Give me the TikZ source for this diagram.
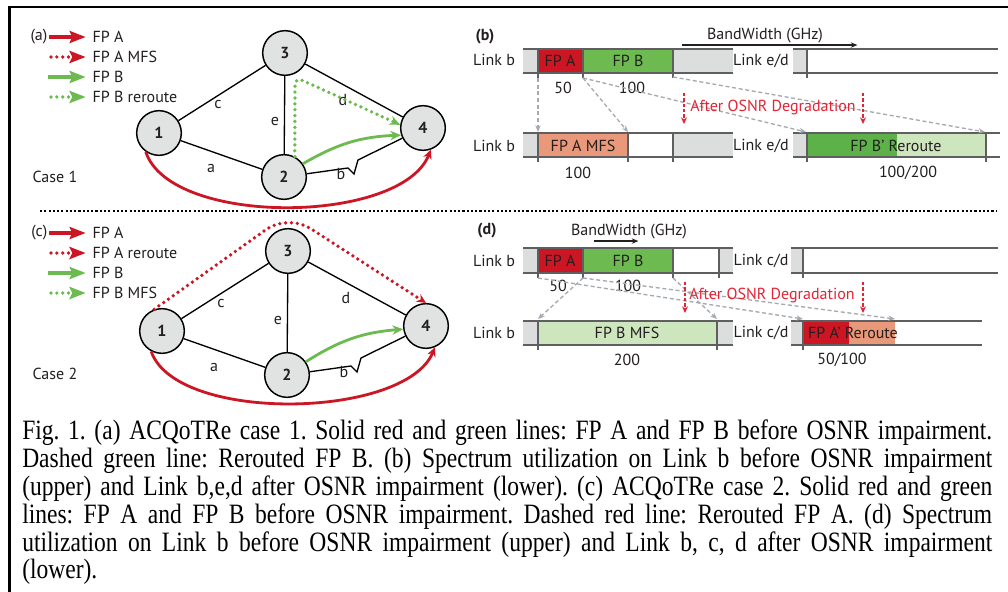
\documentclass[tikz,border=0pt]{standalone}
\usepackage{fontspec}
\setmainfont[FakeStretch=0.84]{Liberation Serif}
\newfontfamily\figsans{PT Sans}
\usetikzlibrary{arrows.meta}

\definecolor{ink}{RGB}{35,31,32}
\definecolor{fpred}{RGB}{204,22,36}
\definecolor{fpgreen}{RGB}{108,186,80}
\definecolor{fpdeep}{RGB}{92,178,72}
\definecolor{mfsred}{RGB}{233,152,122}
\definecolor{mfsgreen}{RGB}{206,230,190}
\definecolor{slot}{RGB}{220,222,221}
\definecolor{nodegray}{RGB}{225,227,226}
\definecolor{rail}{RGB}{95,95,98}
\definecolor{hintgray}{RGB}{165,170,176}
\definecolor{degred}{RGB}{228,36,52}

\newcommand\figtext{\figsans\fontsize{12}{14}\selectfont}
\newcommand\captext{\rmfamily\fontsize{21}{25}\selectfont\frenchspacing}

\tikzset{
  station/.style={circle, draw=black, line width=1.1pt, fill=nodegray,
    minimum size=33.5pt, inner sep=0pt, font=\figtext\bfseries},
  fiber/.style={draw=black, line width=1pt},
  fpA/.style={draw=fpred, line width=2.1pt, -{Stealth[length=7pt,width=6.5pt]}},
  fpB/.style={draw=fpgreen, line width=2.1pt, -{Stealth[length=8pt,width=7pt]}},
  dotline/.style={line width=2.8pt, dash pattern=on 0pt off 4.4pt, line cap=round},
  legA/.style={draw=fpred, line width=2.4pt, -{Stealth[length=12pt,width=9pt,inset=2pt]}},
  legB/.style={draw=fpgreen, line width=2.4pt, -{Stealth[length=12pt,width=9pt,inset=2pt]}},
  railline/.style={draw=rail, line width=0.8pt},
  hint/.style={draw=hintgray, line width=1pt, dash pattern=on 3pt off 2pt,
    -{Stealth[length=5pt,width=4pt]}},
  degrade/.style={draw=degred, line width=1pt, dash pattern=on 2.5pt off 1.5pt,
    -{Stealth[length=5pt,width=4.5pt]}},
  bwarrow/.style={draw=ink, line width=0.9pt, -{Stealth[length=5pt,width=4pt]}},
  tagfont/.style={font=\figtext\bfseries},
  capline/.style={anchor=base west, inner sep=0pt, font=\captext, text=black},
}

\begin{document}
\begin{tikzpicture}[x=0.75pt,y=-0.75pt,
  every node/.style={text=ink, font=\figtext, inner sep=1pt}]
\useasboundingbox (0,0) rectangle (1008,592);
\fill[white] (0,0) rectangle (1008,592);

% frame
\draw[line width=1.7pt] (9.5,592) -- (9.5,7) -- (1008,7);

% legends
\foreach \cs/\dy/\mfsA/\mfsB in {a/0/FP A MFS/FP B reroute, c/196/FP A reroute/FP B MFS}{
  \begin{scope}[shift={(0,\dy)}]
    \node[anchor=east] (\cs-tag) at (49,37) {(\cs)};
    \node[anchor=west] (\cs-l1) at (91,37) {FP A};
    \node[anchor=west] (\cs-l2) at (91,57) {\mfsA};
    \node[anchor=west] (\cs-l3) at (91,77) {FP B};
    \node[anchor=west] (\cs-l4) at (91,97) {\mfsB};
    \draw[legA] (\cs-tag.east) -- ([xshift=-4pt]\cs-l1.west);
    \draw[legA, dotline] ([xshift=-30pt]\cs-l2.west) -- ([xshift=-4pt]\cs-l2.west);
    \draw[legB] ([xshift=-32pt]\cs-l3.west) -- ([xshift=-4pt]\cs-l3.west);
    \draw[legB, dotline] ([xshift=-30pt]\cs-l4.west) -- ([xshift=-4pt]\cs-l4.west);
  \end{scope}
}
\node[anchor=west] (case1) at (31,177) {Case 1};
\node[anchor=west] (case2) at (31,374) {Case 2};

% networks
\foreach \cs/\dx/\dy in {a/0/0, c/3/198}{
  \begin{scope}[shift={(\dx,\dy)}]
    \node[station] (\cs1) at (159,133) {1};
    \node[station] (\cs2) at (284,177) {2};
    \node[station] (\cs3) at (285,53) {3};
    \node[station] (\cs4) at (423,128) {4};
    \draw[fiber] (\cs1) -- (\cs3) (\cs3) -- (\cs4) (\cs3) -- (\cs2) (\cs1) -- (\cs2);
    \draw[fiber] (\cs2) -- (348,168) -- (354,174) -- (358,160) -- (\cs4);
    \node (\cs-a) at (211,169) {a};
    \node (\cs-b) at (341,174) {b};
    \node (\cs-c) at (218,105) {c};
    \node (\cs-d) at (343,100) {d};
    \node (\cs-e) at (275,122) {e};
  \end{scope}
}

% case 1: B rerouted over e,d
\draw[fpA] (a1.-125) .. controls +(25,75) and +(-30,75) .. (a4.-70);
\draw[fpB] (a2.35) to[bend left=14] (a4.198);
\draw[fpB, dotline, rounded corners=6] (a2.62) -- (295,77) -- (a4.172);

% case 2: A rerouted over c,d
\draw[fpA] (c1.-118) .. controls +(25,72) and +(-30,72) .. (c4.-67);
\draw[fpB] (c2.35) to[bend left=14] (c4.188);
\draw[fpA, dotline, rounded corners=20] (c1.110) -- (288,214) -- (c4.north);

% separator
\draw[line width=1.1pt, dash pattern=on 1.6pt off 1.6pt] (40,211) -- (997,211);

% ---- (b) spectrum, case 1 ----
\node[tagfont] (bTag) at (485,37) {(b)};
\node (bBw) at (765,36) {BandWidth (GHz)};
\draw[bwarrow] (bBw.south west) ++(-23,0) -- ++(175,0);

% link b before
\fill[slot] (523,49) rectangle (538,73);
\fill[fpred] (538,49) rectangle (583,73);
\fill[fpgreen] (583,49) rectangle (673,73);
\fill[slot] (673,49) rectangle (733,73);
\draw[railline] (523,49) -- (733,49) (523,73) -- (733,73);
\foreach \x in {538,583,673} \draw[railline] (\x,49) -- (\x,78);
% link e/d before
\fill[slot] (793,49) rectangle (807,73);
\draw[railline] (793,49) -- (998,49) (793,73) -- (998,73) (807,49) -- (807,78);
% link b after
\fill[slot] (523,133) rectangle (538,157);
\fill[mfsred] (538,133) rectangle (628,157);
\fill[slot] (673,133) rectangle (733,157);
\draw[railline] (523,133) -- (733,133) (523,157) -- (733,157);
\foreach \x in {538,628,673} \draw[railline] (\x,133) -- (\x,162);
% link e/d after
\fill[slot] (793,133) rectangle (807,157);
\fill[fpdeep] (807,133) rectangle (897,157);
\fill[mfsgreen] (897,133) rectangle (986,157);
\draw[railline] (793,133) -- (1000,133) (793,157) -- (1000,157);
\foreach \x in {807,986} \draw[railline] (\x,133) -- (\x,162);

\node (bLb1) at (494,60) {Link b};
\node (bLed1) at (761,61) {Link e/d};
\node (bA) at (560,61) {FP A};
\node (bB) at (628,61) {FP B};
\node (b50) at (563,88) {50};
\node (b100) at (632,88) {100};
\node (bLb2) at (494,146) {Link b};
\node (bLed2) at (761,146) {Link e/d};
\node (bMfs) at (583,146) {FP A MFS};
\node (bN100) at (578,173) {100};
\node (bRr) at (896,146) {FP B’ Reroute};
\node (bN100200) at (908,173) {100/200};

\coordinate (bt1) at (538,78);
\coordinate (bt2) at (583,78);
\coordinate (bt3) at (673,77);
\coordinate (bs1) at (538,132);
\coordinate (bs2) at (628,132);
\coordinate (bs3) at (806,132);
\coordinate (bs4) at (985,132);
\draw[hint] (bt1) -- (bs1);
\draw[hint] (bt2) -- (bs2);
\draw[hint] (bt2) -- (bs3);
\draw[hint] (bt3) -- (bs4);

\node[text=degred] (bDeg) at (773,108) {After OSNR Degradation};
\draw[degrade] (684,93) -- (684,124);
\draw[degrade] (863,93) -- (863,124);

% ---- (d) spectrum, case 2 ----
\node[tagfont] (dTag) at (487,231) {(d)};
\node (dBw) at (629,232) {BandWidth (GHz)};
\draw[bwarrow] (dBw.south west) ++(25,0) -- ++(44,0);

% link b before
\fill[slot] (523,248) rectangle (538,273);
\fill[fpred] (538,248) rectangle (583,273);
\fill[fpgreen] (583,248) rectangle (673,273);
\fill[slot] (719,248) rectangle (733,273);
\draw[railline] (523,248) -- (733,248) (523,273) -- (733,273);
\foreach \x in {538,583,673,719} \draw[railline] (\x,248) -- (\x,278);
% link c/d before
\fill[slot] (791,248) rectangle (803,273);
\draw[railline] (791,248) -- (998,248) (791,273) -- (998,273) (803,248) -- (803,278);
% link b after
\fill[slot] (523,321) rectangle (538,345);
\fill[mfsgreen] (538,321) rectangle (717,345);
\fill[slot] (717,321) rectangle (733,345);
\draw[railline] (523,321) -- (733,321) (523,345) -- (733,345);
\foreach \x in {538,717} \draw[railline] (\x,321) -- (\x,350);
% link c/d after
\fill[slot] (791,321) rectangle (803,345);
\fill[fpred] (803,321) rectangle (849,345);
\fill[mfsred] (849,321) rectangle (895,345);
\draw[railline] (791,321) -- (982,321) (791,345) -- (982,345) (803,321) -- (803,350);

\node (dLb1) at (494,261) {Link b};
\node (dLcd1) at (761,261) {Link c/d};
\node (dA) at (560,261) {FP A};
\node (dB) at (628,261) {FP B};
\node (d50) at (558,286) {50};
\node (d100) at (628,286) {100};
\node (dLb2) at (494,333) {Link b};
\node (dLcd2) at (761,333) {Link c/d};
\node (dMfs) at (627,333) {FP B MFS};
\node (d200) at (627,360) {200};
\node (dRr) at (853,333) {FP A’ Reroute};
\node (d50100) at (842,360) {50/100};

\coordinate (dt1) at (538,278);
\coordinate (dt2) at (583,278);
\coordinate (dt3) at (673,278);
\coordinate (ds1) at (538,319);
\coordinate (ds2) at (717,319);
\coordinate (ds3) at (803,319);
\coordinate (ds4) at (895,319);
\draw[hint] (dt2) -- (ds1);
\draw[hint] (dt3) -- (ds2);
\draw[hint] (dt1) -- (ds3);
\draw[hint] (dt2) -- (ds4);

\node[text=degred] (dDeg) at (772,295) {After OSNR Degradation};
\draw[degrade] (685,282) -- (685,313);
\draw[degrade] (863,282) -- (863,313);

% caption
\node[capline] (cap1) at (22,439)
  {\makebox[727.5pt][s]{Fig. 1. (a) ACQoTRe case 1. Solid red and green lines: FP A and FP B before OSNR impairment.}};
\node[capline] (cap2) at (22,467)
  {\makebox[727.5pt][s]{Dashed green line: Rerouted FP B. (b) Spectrum utilization on Link b before OSNR impairment}};
\node[capline] (cap3) at (22,495)
  {\makebox[727.5pt][s]{(upper) and Link b,e,d after OSNR impairment (lower). (c) ACQoTRe case 2. Solid red and green}};
\node[capline] (cap4) at (22,523)
  {\makebox[727.5pt][s]{lines: FP A and FP B before OSNR impairment. Dashed red line: Rerouted FP A. (d) Spectrum}};
\node[capline] (cap5) at (22,551)
  {\makebox[727.5pt][s]{utilization on Link b before OSNR impairment (upper) and Link b, c, d after OSNR impairment}};
\node[capline] (cap6) at (22,578)
  {(lower).};
\end{tikzpicture}
\end{document}
